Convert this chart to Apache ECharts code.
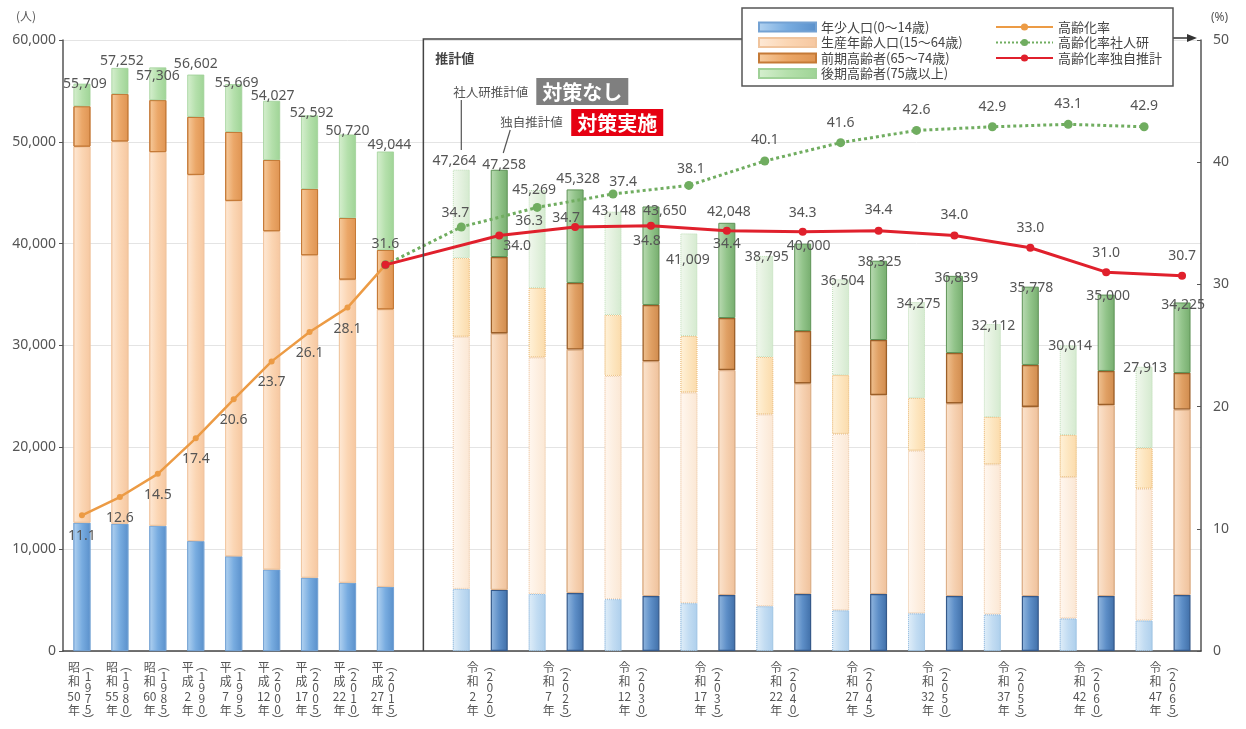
<!DOCTYPE html>
<html>
<head>
<meta charset="utf-8">
<script src="https://cdn.jsdelivr.net/npm/echarts@6/dist/echarts.min.js"></script>
<style>html,body{margin:0;padding:0;background:#fff}#c{width:1246px;height:729px}</style>
</head>
<body>
<div id="c"></div>
<script>
// ---------------- data ----------------
const histEra = ['昭和50年','昭和55年','昭和60年','平成2年','平成7年','平成12年','平成17年','平成22年','平成27年'];
const histYear = ['1975','1980','1985','1990','1995','2000','2005','2010','2015'];
const projEra = ['令和2年','令和7年','令和12年','令和17年','令和22年','令和27年','令和32年','令和37年','令和42年','令和47年'];
const projYear = ['2020','2025','2030','2035','2040','2045','2050','2055','2060','2065'];

const histYouth   = [12600, 12500, 12300, 10800, 9300, 8000, 7200, 6700, 6300];
const histWorking = [36925, 37538, 36697, 35953, 34901, 33223, 31665, 29768, 27246];
const histEarly   = [3975, 4662, 5103, 5700, 6769, 6997, 6505, 6052, 5834];
const histLate    = [2209, 2552, 3206, 4149, 4699, 5807, 7222, 8200, 9664];
const histTotal   = [55709, 57252, 57306, 56602, 55669, 54027, 52592, 50720, 49044];
const histRate    = [11.1, 12.6, 14.5, 17.4, 20.6, 23.7, 26.1, 28.1, 31.6];

const ipssYouth   = [6100, 5600, 5100, 4700, 4400, 4000, 3700, 3600, 3200, 3000];
const ipssWorking = [24763, 23236, 21911, 20685, 18838, 17318, 15974, 14736, 13878, 12938];
const ipssEarly   = [7727, 6814, 5989, 5545, 5632, 5782, 5176, 4644, 4132, 3992];
const ipssLate    = [8674, 9619, 10148, 10079, 9925, 9404, 9425, 9132, 8804, 7983];
const ipssTotal   = [47264, 45269, 43148, 41009, 38795, 36504, 34275, 32112, 30014, 27913];
const ipssRate    = [34.7, 36.3, 37.4, 38.1, 40.1, 41.6, 42.6, 42.9, 43.1, 42.9];

const ownYouth    = [6000, 5700, 5400, 5500, 5600, 5600, 5400, 5400, 5400, 5500];
const ownWorking  = [25190, 23899, 23060, 22083, 20680, 19541, 18914, 18571, 18750, 18218];
const ownEarly    = [7500, 6541, 5520, 5117, 5140, 5399, 4946, 4119, 3350, 3582];
const ownLate     = [8568, 9188, 9670, 9348, 8580, 7785, 7579, 7688, 7500, 6925];
const ownTotal    = [47258, 45328, 43650, 42048, 40000, 38325, 36839, 35778, 35000, 34225];
const ownRate     = [34.0, 34.7, 34.8, 34.4, 34.3, 34.4, 34.0, 33.0, 31.0, 30.7];

const leftTicks  = [0, 10000, 20000, 30000, 40000, 50000, 60000];
const rightTicks = [0, 10, 20, 30, 40, 50];

// ---------------- layout / style (not data) ----------------
const JP = "'Noto Sans CJK JP', 'Noto Sans', sans-serif";
const NUM = "'Noto Sans', 'Noto Sans CJK JP', sans-serif";
const GRID = {left: 63, right: 45, top: 40, bottom: 78};

// slot layout: 9 historical, 1 gap, then pairs (社人研, 独自)
const categories = [];
const kind = [];
histYear.forEach(y => { categories.push(y); kind.push('hist'); });
categories.push('gap'); kind.push('gap');
projYear.forEach(y => {
  categories.push(y + '社人研'); kind.push('ipss');
  categories.push(y + '独自'); kind.push('own');
});
function slots(h, p, o) {
  const a = h.slice(); a.push(null);
  for (let k = 0; k < p.length; k++) { a.push(p[k]); a.push(o[k]); }
  return a;
}
const totals30 = slots(histTotal, ipssTotal, ownTotal);
const totalOffsets = slots(
  [[3,7],[2,0],[0,16],[0,-4],[3,6],[1,2],[2,5],[0,4],[4,0]],
  [[-7,-2],[-3,7],[1,6],[-1,34],[2,8],[2,9],[2,9],[1,9],[2,8],[1,8]],
  [[5,2],[3,-3],[14,12],[2,-4],[6,9],[1,8],[2,9],[1,8],[2,8],[1,10]]
);

const grad = (stops) => ({type:'linear', x:0, y:0, x2:1, y2:0,
  colorStops: stops.map((c, i) => ({offset: i / (stops.length - 1), color: c}))});
const barStyles = {
  youth: {
    hist: {color: grad(['#b3d3f1','#78ace0','#5a90cb']), borderColor:'#74a2d3', borderWidth:0.8},
    own:  {color: grad(['#93b8e0','#5d8ec7','#406fa8']), borderColor:'#35598a', borderWidth:1.2},
    ipss: {color: grad(['#e0eef9','#c2dcf2','#aecfec']), borderColor:'#9bc0e2', borderWidth:1, borderType:'dotted'}
  },
  working: {
    hist: {color: grad(['#fee9d6','#fbd6b4','#f6c7a0']), borderColor:'#f0c49d', borderWidth:0.8},
    own:  {color: grad(['#fbe4cf','#f6d1b1','#efc19b']), borderColor:'#ddb089', borderWidth:1},
    ipss: {color: grad(['#fff7f0','#fdefe1','#fbe7d4']), borderColor:'#f1d3b6', borderWidth:1, borderType:'dotted'}
  },
  early: {
    hist: {color: grad(['#f7cc9f','#eba768','#df9452']), borderColor:'#c57a37', borderWidth:1},
    own:  {color: grad(['#f0c393','#e0a064','#d08b4d']), borderColor:'#9c5f28', borderWidth:1.3},
    ipss: {color: grad(['#fff2da','#fde6c0','#fbdbab']), borderColor:'#eec68c', borderWidth:1, borderType:'dotted'}
  },
  late: {
    hist: {color: grad(['#d6efcf','#b5e0ac','#9fd496']), borderColor:'#a0d198', borderWidth:0.8},
    own:  {color: grad(['#bbdbb4','#92c48a','#76ad6e']), borderColor:'#5e9357', borderWidth:1},
    ipss: {color: grad(['#f1f8ee','#e3f1de','#d4eacf']), borderColor:'#bcdcb4', borderWidth:1, borderType:'dotted'}
  }
};

function barSeries(name, key, h, p, o, withTotal) {
  const vals = slots(h, p, o);
  const data = vals.map((v, i) => {
    if (v == null) return null;
    const item = {value: v};
    if (kind[i] !== 'hist') item.itemStyle = barStyles[key][kind[i]];
    if (withTotal) item.label = {offset: totalOffsets[i]};
    return item;
  });
  const s = {
    name, type: 'bar', stack: 'pop', barWidth: 17, xAxisIndex: 0, yAxisIndex: 0,
    itemStyle: barStyles[key].hist, data, emphasis: {disabled: true}, z: 2
  };
  if (withTotal) {
    s.label = {show: true, position: 'top', distance: 0, fontSize: 14, color: '#555', fontFamily: NUM,
      formatter: prm => totals30[prm.dataIndex].toLocaleString('en-US')};
  }
  return s;
}

// rate label placement
const histRateLbl = histRate.map((v, i) => i < 8 ? {position:'bottom', distance:11} : {position:'top', distance:11});
const ipssRateLbl = [
  {position:'top', distance:2.5, offset:[-6,0]}, {position:'bottom', distance:2.5, offset:[-8,0]},
  {position:'top', distance:0.5, offset:[10,0]}, {position:'top', distance:4.5, offset:[2,0]},
  {position:'top', distance:9}, {position:'top', distance:8.5}, {position:'top', distance:9},
  {position:'top', distance:8.5}, {position:'top', distance:8.5}, {position:'top', distance:9}
];
const ownRateLbl = [
  {position:'bottom', distance:0, offset:[18,-1]}, {position:'top', distance:0, offset:[-9,2]},
  {position:'bottom', distance:4, offset:[-4,0]}, {position:'bottom', distance:2},
  {position:'top', distance:8}, {position:'top', distance:10}, {position:'top', distance:10},
  {position:'top', distance:9}, {position:'top', distance:8}, {position:'top', distance:9}
];

const orangeData = categories.map(() => null);
histRate.forEach((v, i) => { orangeData[i] = {value: v, label: histRateLbl[i]}; });
const greenData = categories.map(() => null);
greenData[8] = {value: histRate[8], label: {show: false}};
ipssRate.forEach((v, k) => { greenData[10 + 2 * k] = {value: v, label: ipssRateLbl[k]}; });
const redData = categories.map(() => null);
redData[8] = {value: histRate[8], label: {show: false}};
ownRate.forEach((v, k) => { redData[11 + 2 * k] = {value: v, label: ownRateLbl[k]}; });

const rateLabel = {show: true, fontSize: 14, color: '#555', fontFamily: NUM, formatter: p => Number(p.value).toFixed(1)};

// vertical axis labels
const vert = s => s.match(/\d+|./g);
function wrap(tok, arr) { return arr.map(c => '{' + tok + '|' + c + '}').join('\n'); }
function leftCol(v, i) {
  if (i < 9) return wrap('h', vert(histEra[i]));
  if (kind[i] === 'ipss') return wrap('p', vert(projEra[(i - 10) / 2]));
  return '';
}
function rightCol(v, i) {
  if (i < 9) return wrap('h', ['︵'].concat(histYear[i].split(''), ['︶']));
  if (kind[i] === 'own') return wrap('p', ['︵'].concat(projYear[(i - 11) / 2].split(''), ['︶']));
  return '';
}
const lblBase = {fontSize: 12, color: '#555', fontFamily: JP};

const chart = echarts.init(document.getElementById('c'), null, {renderer: 'canvas'});
const option = {
  animation: false,
  backgroundColor: '#fff',
  grid: Object.assign({containLabel: false, outerBoundsMode: 'none'}, GRID),
  legend: [
    {
      data: ['年少人口(0～14歳)', '生産年齢人口(15～64歳)', '前期高齢者(65～74歳)', '後期高齢者(75歳以上)'],
      orient: 'vertical', left: 753, top: 15, itemWidth: 57, itemHeight: 9, itemGap: 1.5, icon: 'rect',
      selectedMode: false, z: 60,
      textStyle: {fontSize: 13, color: '#444', fontFamily: JP, lineHeight: 14}
    },
    {
      data: ['高齢化率', '高齢化率社人研', '高齢化率独自推計'],
      orient: 'vertical', left: 990, top: 15, itemWidth: 57, itemHeight: 9, itemGap: 1.5,
      selectedMode: false, z: 60,
      textStyle: {fontSize: 13, color: '#444', fontFamily: JP, lineHeight: 14}
    }
  ],
  xAxis: [
    {
      type: 'category', data: categories, gridIndex: 0,
      axisLine: {show: true, lineStyle: {color: '#444', width: 1.5}},
      axisTick: {show: false}, splitLine: {show: false},
      axisLabel: {interval: 0, margin: 9, align: 'center', formatter: leftCol,
        rich: {h: Object.assign({lineHeight: 14.5, padding: [0, 16, 0, 0]}, lblBase),
               p: Object.assign({lineHeight: 14.5, padding: [0, 0, 0, 23]}, lblBase)}}
    },
    {
      type: 'category', data: categories, gridIndex: 0, position: 'bottom',
      axisLine: {show: false}, axisTick: {show: false}, splitLine: {show: false},
      axisLabel: {interval: 0, margin: 9, align: 'center', formatter: rightCol,
        rich: {h: Object.assign({lineHeight: 11, padding: [0, 0, 0, 12]}, lblBase),
               p: Object.assign({lineHeight: 11, padding: [0, 19, 0, 0]}, lblBase)}}
    }
  ],
  yAxis: [
    {
      type: 'value', min: leftTicks[0], max: leftTicks[leftTicks.length - 1], interval: leftTicks[1] - leftTicks[0],
      name: '(人)', nameLocation: 'end', nameGap: 18,
      nameTextStyle: {color: '#555', fontSize: 12, fontFamily: JP, align: 'right', padding: [0, 27, 0, 0]},
      axisLine: {show: true, lineStyle: {color: '#555', width: 1.5}},
      axisTick: {show: true, length: 4, lineStyle: {color: '#555'}},
      axisLabel: {color: '#555', fontSize: 14, fontFamily: NUM, margin: 7, formatter: v => v.toLocaleString('en-US')},
      splitLine: {show: true, lineStyle: {color: '#e4e4e4', width: 1}}
    },
    {
      type: 'value', min: rightTicks[0], max: rightTicks[rightTicks.length - 1], interval: rightTicks[1] - rightTicks[0],
      position: 'right', name: '(%)', nameLocation: 'end', nameGap: 16,
      nameTextStyle: {color: '#555', fontSize: 12, fontFamily: NUM, align: 'left', padding: [0, 0, 0, 10]},
      axisLine: {show: true, lineStyle: {color: '#555', width: 1.5}},
      axisTick: {show: true, length: 4, inside: true, lineStyle: {color: '#555'}},
      axisLabel: {color: '#555', fontSize: 14, fontFamily: NUM, margin: 12},
      splitLine: {show: false}
    }
  ],
  series: [
    barSeries('年少人口(0～14歳)', 'youth', histYouth, ipssYouth, ownYouth, false),
    barSeries('生産年齢人口(15～64歳)', 'working', histWorking, ipssWorking, ownWorking, false),
    barSeries('前期高齢者(65～74歳)', 'early', histEarly, ipssEarly, ownEarly, false),
    barSeries('後期高齢者(75歳以上)', 'late', histLate, ipssLate, ownLate, true),
    {
      name: '高齢化率', type: 'line', yAxisIndex: 1, data: orangeData, connectNulls: false,
      symbol: 'circle', symbolSize: 6, itemStyle: {color: '#ec9b45'},
      lineStyle: {color: '#ec9b45', width: 2.5}, label: rateLabel, z: 4, emphasis: {disabled: true}
    },
    {
      name: '高齢化率社人研', type: 'line', yAxisIndex: 1, data: greenData, connectNulls: true,
      symbol: 'circle', symbolSize: 9, itemStyle: {color: '#70ad60'},
      lineStyle: {color: '#70ad60', width: 3, type: 'dotted'}, label: rateLabel, z: 4, emphasis: {disabled: true}
    },
    {
      name: '高齢化率独自推計', type: 'line', yAxisIndex: 1, data: redData, connectNulls: true,
      symbol: 'circle', symbolSize: 8, itemStyle: {color: '#e0202c'},
      lineStyle: {color: '#e0202c', width: 3}, label: rateLabel, z: 5, emphasis: {disabled: true}
    }
  ]
};
chart.setOption(option);

// decorations positioned from the chart's own scales
const px = c => chart.convertToPixel({xAxisIndex: 0}, c);
const py = v => chart.convertToPixel({yAxisIndex: 0}, v);
const xBox = px('gap');
const yTop = py(leftTicks[leftTicks.length - 1]) - 1;
const yBot = py(0);
const xF = px(categories[10]);
const xO = px(categories[11]);
const xRight = 1246 - GRID.right;
const LEG = {x: 742, y: 8, w: 431, h: 78};

chart.setOption({
  graphic: [
    {type: 'polyline', z: 40, silent: true,
      shape: {points: [[xBox, yBot], [xBox, yTop], [LEG.x, yTop]]},
      style: {stroke: '#444', lineWidth: 1.5, fill: null}},
    {type: 'rect', z: 50, silent: true,
      shape: {x: LEG.x, y: LEG.y, width: LEG.w, height: LEG.h},
      style: {fill: '#fff', stroke: '#555', lineWidth: 1.5}},
    {type: 'line', z: 40, silent: true,
      shape: {x1: LEG.x + LEG.w, y1: yTop - 1, x2: xRight - 10, y2: yTop - 1},
      style: {stroke: '#333', lineWidth: 1.5}},
    {type: 'polygon', z: 40, silent: true,
      shape: {points: [[xRight - 14, yTop - 5], [xRight - 4, yTop - 1], [xRight - 14, yTop + 3]]},
      style: {fill: '#333'}},
    {type: 'text', z: 45, silent: true,
      style: {text: '推計値', x: xBox + 12, y: 58, fill: '#444', fontSize: 13, fontFamily: JP,
        fontWeight: 'bold', textVerticalAlign: 'middle'}},
    {type: 'text', z: 45, silent: true,
      style: {text: '社人研推計値', x: xF - 8, y: 92, fill: '#555', fontSize: 12.5, fontFamily: JP, textVerticalAlign: 'middle'}},
    {type: 'line', z: 45, silent: true,
      shape: {x1: xF, y1: 100, x2: xF, y2: 150}, style: {stroke: '#555', lineWidth: 1.2}},
    {type: 'text', z: 45, silent: true,
      style: {text: '対策なし', x: xF + 75, y: 78, fill: '#fff', fontSize: 20, fontWeight: 'bold', fontFamily: JP,
        backgroundColor: '#7f7f7f', padding: [3, 6, 2, 6], lineHeight: 22}},
    {type: 'text', z: 45, silent: true,
      style: {text: '独自推計値', x: xO + 1, y: 122, fill: '#555', fontSize: 12.5, fontFamily: JP, textVerticalAlign: 'middle'}},
    {type: 'line', z: 45, silent: true,
      shape: {x1: xO + 11, y1: 130, x2: xO + 4, y2: 153}, style: {stroke: '#555', lineWidth: 1.2}},
    {type: 'text', z: 45, silent: true,
      style: {text: '対策実施', x: xO + 72, y: 109, fill: '#fff', fontSize: 20, fontWeight: 'bold', fontFamily: JP,
        backgroundColor: '#e60012', padding: [3, 6, 2, 6], lineHeight: 22}}
  ]
});
</script>
</body>
</html>
